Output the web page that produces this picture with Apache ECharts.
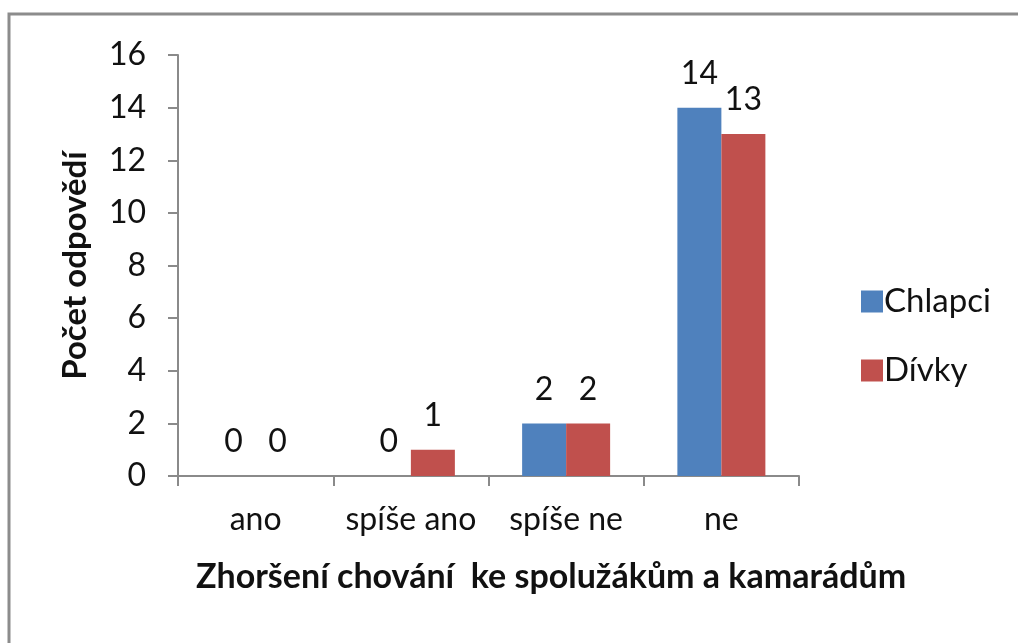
<!DOCTYPE html>
<html>
<head>
<meta charset="utf-8">
<script src="https://cdn.jsdelivr.net/npm/echarts@6/dist/echarts.min.js"></script>
<style>
html, body { margin: 0; padding: 0; background: #fff; }
#chart { width: 1018px; height: 643px; }
</style>
</head>
<body>
<div id="chart"></div>
<script>
var categories = ['ano', 'spíše ano', 'spíše ne', 'ne'];
var chlapci = [0, 0, 2, 14];
var divky = [0, 1, 2, 13];
var seriesNames = ['Chlapci', 'Dívky'];

var font = 'Lato, "Open Sans", sans-serif';
var axisColor = '#8a8a8a';

var chart = echarts.init(document.getElementById('chart'));
var option = {
    backgroundColor: '#fff',
    animation: false,
    textStyle: { fontFamily: font },
    graphic: [
        {
            type: 'rect',
            shape: { x: 9, y: 14, width: 1100, height: 700 },
            style: { fill: 'none', stroke: '#8c8c8c', lineWidth: 3 }
        },
        {
            type: 'text',
            left: 196,
            top: 560,
            style: {
                text: 'Zhoršení chování  ke spolužákům a kamarádům',
                font: 'bold 34px ' + font,
                fill: '#111'
            }
        }
    ],
    grid: { left: 178, right: 219, top: 55, bottom: 167, containLabel: false },
    legend: {
        orient: 'vertical',
        left: 856,
        top: 280,
        itemWidth: 22,
        itemHeight: 22,
        itemGap: 36,
        icon: 'rect',
        data: seriesNames,
        textStyle: { fontSize: 33, color: '#111', fontFamily: font, padding: [0, 0, 0, -4] }
    },
    xAxis: {
        type: 'category',
        data: categories,
        axisLine: { lineStyle: { color: axisColor, width: 2 } },
        axisTick: { show: true, length: 10, lineStyle: { color: axisColor, width: 2 } },
        axisLabel: { interval: 0, fontSize: 32, color: '#111', margin: 28 }
    },
    yAxis: {
        type: 'value',
        name: 'Počet odpovědí',
        nameLocation: 'middle',
        nameGap: 86,
        nameTextStyle: { fontSize: 33, fontWeight: 'bold', color: '#111' },
        min: 0,
        max: 16,
        interval: 2,
        splitLine: { show: false },
        axisLine: { show: true, lineStyle: { color: axisColor, width: 2 } },
        axisTick: { show: true, length: 10, lineStyle: { color: axisColor, width: 2 } },
        axisLabel: { fontSize: 32, color: '#111', margin: 32 }
    },
    series: [
        {
            name: seriesNames[0],
            type: 'bar',
            data: chlapci,
            barWidth: 44,
            barGap: '0%',
            itemStyle: { color: '#4F81BD' },
            label: { show: true, position: 'top', distance: 18, fontSize: 32, color: '#111' }
        },
        {
            name: seriesNames[1],
            type: 'bar',
            data: divky,
            barWidth: 44,
            barGap: '0%',
            itemStyle: { color: '#C0504D' },
            label: { show: true, position: 'top', distance: 18, fontSize: 32, color: '#111' }
        }
    ]
};
chart.setOption(option);
</script>
</body>
</html>
